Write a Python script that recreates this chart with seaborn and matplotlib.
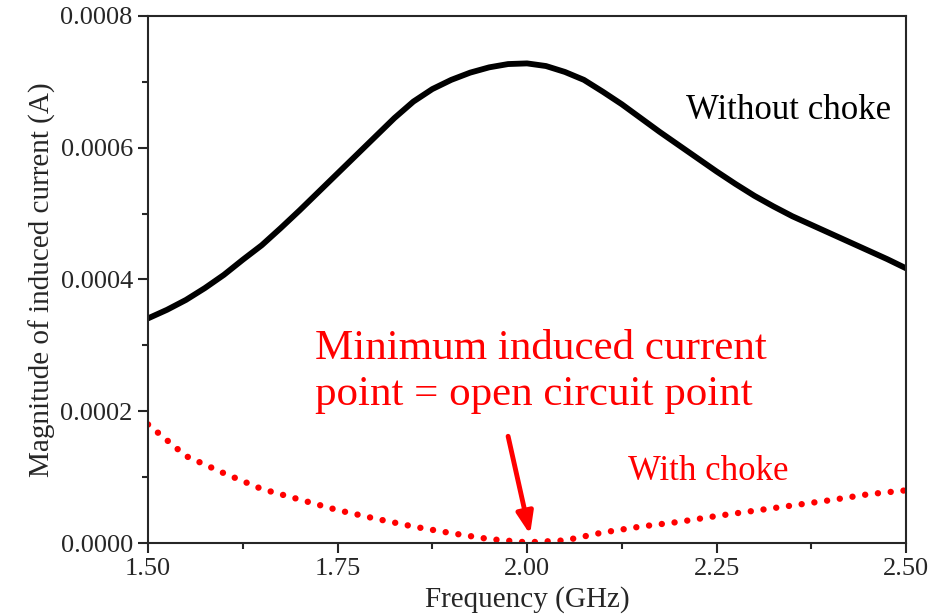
import numpy as np
import pandas as pd
import matplotlib
matplotlib.use("Agg")
import matplotlib.pyplot as plt
import seaborn as sns
from matplotlib.ticker import MultipleLocator, FormatStrFormatter

freq_without = [1.500, 1.525, 1.550, 1.575, 1.600, 1.625, 1.650, 1.675, 1.700, 1.725,
                1.750, 1.775, 1.800, 1.825, 1.850, 1.875, 1.900, 1.925, 1.950, 1.975,
                2.000, 2.025, 2.050, 2.075, 2.100, 2.125, 2.150, 2.175, 2.200, 2.225,
                2.250, 2.275, 2.300, 2.325, 2.350, 2.375, 2.400, 2.425, 2.450, 2.475,
                2.500]
without_choke = [0.000341, 0.000354, 0.000369, 0.000387, 0.000407, 0.000430, 0.000452,
                 0.000478, 0.000505, 0.000533, 0.000561, 0.000589, 0.000617, 0.000645,
                 0.000670, 0.000689, 0.000703, 0.000714, 0.000722, 0.000727, 0.000728,
                 0.000724, 0.000715, 0.000703, 0.000685, 0.000666, 0.000645, 0.000624,
                 0.000604, 0.000584, 0.000564, 0.000545, 0.000527, 0.000511, 0.000496,
                 0.000483, 0.000470, 0.000457, 0.000444, 0.000431, 0.000417]
freq_with = [1.50, 1.55, 1.60, 1.65, 1.70, 1.75, 1.80, 1.85, 1.90, 1.95, 2.00,
             2.05, 2.10, 2.15, 2.20, 2.25, 2.30, 2.35, 2.40, 2.45, 2.50]
with_choke = [0.000180, 0.000132, 0.000106, 0.000082, 0.000066, 0.000050, 0.000037,
              0.000025, 0.000015, 0.000006, 0.000001, 0.000004, 0.000016, 0.000025,
              0.000032, 0.000041, 0.000049, 0.000057, 0.000065, 0.000074, 0.000080]
x_ticks = [1.50, 1.75, 2.00, 2.25, 2.50]
y_ticks = [0.0000, 0.0002, 0.0004, 0.0006, 0.0008]

df_without = pd.DataFrame({"freq": freq_without, "current": without_choke})
df_with = pd.DataFrame({"freq": freq_with, "current": with_choke})

sns.set_style("ticks")
plt.rcParams["font.family"] = ["Liberation Serif", "DejaVu Serif"]

fig = plt.figure(figsize=(9.43, 6.14), dpi=100)
ax = fig.add_axes([0.157, 0.1156, 0.8038, 0.8584])

sns.lineplot(data=df_without, x="freq", y="current", color="black", lw=4.2, ax=ax)
sns.lineplot(data=df_with, x="freq", y="current", color="red", lw=4.6, ax=ax,
             linestyle=(0, (0.01, 2.0)), dash_capstyle="round")

ax.set_xlim(1.5, 2.5)
ax.set_ylim(0, 0.0008)
ax.set_xticks(x_ticks)
ax.set_yticks(y_ticks)
ax.xaxis.set_minor_locator(MultipleLocator(0.125))
ax.yaxis.set_minor_locator(MultipleLocator(0.0001))
ax.xaxis.set_major_formatter(FormatStrFormatter("%.2f"))
ax.yaxis.set_major_formatter(FormatStrFormatter("%.4f"))
ax.tick_params(which="major", direction="out", length=7, width=1.5, labelsize=19, pad=4)
ax.tick_params(which="minor", direction="out", length=4, width=1.5)
for s in ax.spines.values():
    s.set_linewidth(1.5)
    s.set_visible(True)

ax.set_xlabel("Frequency (GHz)", fontsize=21, labelpad=4)
ax.set_ylabel("Magnitude of induced current (A)", fontsize=21, labelpad=3)

ax.text(2.21, 0.000657, "Without choke", fontsize=25, color="black", ha="left", va="center")
ax.text(2.133, 0.000108, "With choke", fontsize=25, color="red", ha="left", va="center")
ax.text(1.72, 0.000260, "Minimum induced current\npoint = open circuit point",
        fontsize=31, color="red", ha="left", va="center", linespacing=1.28)
ax.annotate("", xy=(2.004, 0.000013), xytext=(1.975, 0.000162),
            arrowprops=dict(arrowstyle="-|>,head_width=0.5,head_length=1.3",
                            color="red", lw=3.5, shrinkA=0, shrinkB=0))

fig.savefig("out.png", dpi=100)
